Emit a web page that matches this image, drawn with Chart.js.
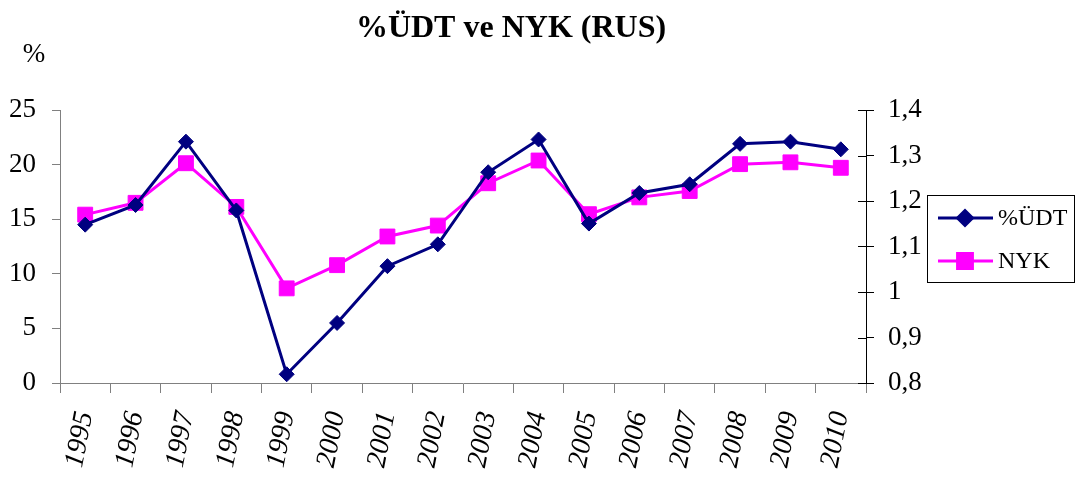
<!DOCTYPE html>
<html>
<head>
<meta charset="utf-8">
<script src="https://cdn.jsdelivr.net/npm/chart.js@4.4.1/dist/chart.umd.min.js"></script>
<style>
    body { margin: 0; background: #fff; }
    #wrap { width: 1075px; height: 479px; position: relative; }
</style>
</head>
<body>
<div id="wrap"><canvas id="chart"></canvas></div>
<script>
const years = ['1995', '1996', '1997', '1998', '1999', '2000', '2001', '2002',
    '2003', '2004', '2005', '2006', '2007', '2008', '2009', '2010'];
const udtValues = [14.5, 16.3, 22.1, 15.8, 0.8, 5.5, 10.7, 12.7, 19.3, 22.3, 14.6, 17.4, 18.2, 21.9, 22.1, 21.4];
const nykValues = [1.17, 1.196, 1.283, 1.187, 1.008, 1.059, 1.122, 1.146, 1.239, 1.289, 1.171, 1.208, 1.222, 1.281, 1.285, 1.273];
const seriesNames = ['%ÜDT', 'NYK'];
const chartTitle = '%ÜDT ve NYK (RUS)';
const leftAxisLabel = '%';

const serif = "'Liberation Serif', 'Times New Roman', serif";
const navy = '#000080';
const magenta = '#FF00FF';

// Title, "%" label, inner right ticks and the boxed legend
const extrasPlugin = {
    id: 'extras',
    afterDraw(chart) {
        const ctx = chart.ctx;
        ctx.save();
        ctx.fillStyle = '#000';
        ctx.textBaseline = 'alphabetic';
        ctx.textAlign = 'center';
        ctx.font = 'bold 32px ' + serif;
        ctx.fillText(chartTitle, 511, 37);
        ctx.font = '27px ' + serif;
        ctx.fillText(leftAxisLabel, 34, 62);

        // right axis ticks cross the axis line
        const r = chart.scales.y1;
        ctx.strokeStyle = '#000';
        ctx.lineWidth = 1;
        r.ticks.forEach(t => {
            const y = Math.round(r.getPixelForValue(t.value)) + 0.5;
            ctx.beginPath();
            ctx.moveTo(r.left - 8, y);
            ctx.lineTo(r.left, y);
            ctx.stroke();
        });

        // legend
        const bx = 927.5, by = 195.5, bw = 147, bh = 87;
        ctx.strokeStyle = '#000';
        ctx.strokeRect(bx, by, bw, bh);
        chart.data.datasets.forEach((ds, i) => {
            const y = 218 + i * 43;
            ctx.strokeStyle = ds.borderColor;
            ctx.lineWidth = 3;
            ctx.beginPath();
            ctx.moveTo(938, y);
            ctx.lineTo(993, y);
            ctx.stroke();
            Chart.helpers.drawPoint(ctx, {
                pointStyle: ds.pointStyle,
                radius: ds.pointRadius,
                borderWidth: 1
            }, 965, y);
            ctx.fillStyle = ds.backgroundColor;
            ctx.fill();
            ctx.fillStyle = '#000';
            ctx.textAlign = 'left';
            ctx.textBaseline = 'middle';
            ctx.font = '24px ' + serif;
            ctx.fillText(ds.label, 998, y + 1);
        });
        ctx.restore();
    }
};

new Chart(document.getElementById('chart'), {
    type: 'line',
    data: {
        labels: years,
        datasets: [{
            label: seriesNames[0],
            data: udtValues,
            yAxisID: 'y',
            borderColor: navy,
            backgroundColor: navy,
            borderWidth: 3,
            pointStyle: 'rectRot',
            pointRadius: 7.5,
            pointBorderWidth: 1,
            tension: 0
        }, {
            label: seriesNames[1],
            data: nykValues,
            yAxisID: 'y1',
            borderColor: magenta,
            backgroundColor: magenta,
            borderWidth: 3,
            pointStyle: 'rect',
            pointRadius: 10.5,
            pointBorderWidth: 1,
            tension: 0
        }]
    },
    options: {
        responsive: true,
        maintainAspectRatio: false,
        animation: false,
        layout: { padding: { top: 110, right: 149, left: 0, bottom: 0 } },
        plugins: {
            legend: { display: false },
            title: { display: false },
            tooltip: { enabled: false }
        },
        scales: {
            x: {
                offset: true,
                grid: { offset: true, drawOnChartArea: false, tickLength: 10, color: '#808080' },
                border: { color: '#808080' },
                ticks: {
                    autoSkip: false,
                    minRotation: 79,
                    maxRotation: 79,
                    padding: 16,
                    color: '#000',
                    font: { family: serif, size: 28, style: 'italic' }
                },
                afterFit(scale) { scale.height = 96; }
            },
            y: {
                position: 'left',
                min: 0,
                max: 25,
                ticks: {
                    stepSize: 5,
                    padding: 16,
                    color: '#000',
                    font: { family: serif, size: 27 }
                },
                grid: { drawOnChartArea: false, tickLength: 8, color: '#808080' },
                border: { color: '#808080' },
                afterFit(scale) { scale.width = 60; }
            },
            y1: {
                position: 'right',
                min: 0.8,
                max: 1.4,
                ticks: {
                    stepSize: 0.1,
                    padding: 14,
                    color: '#000',
                    font: { family: serif, size: 27 },
                    callback: v => String(Math.round(v * 10) / 10).replace('.', ',')
                },
                grid: { drawOnChartArea: false, tickLength: 8, color: '#000' },
                border: { color: '#000' },
                afterFit(scale) { scale.width = 60; }
            }
        }
    },
    plugins: [extrasPlugin]
});
</script>
</body>
</html>
